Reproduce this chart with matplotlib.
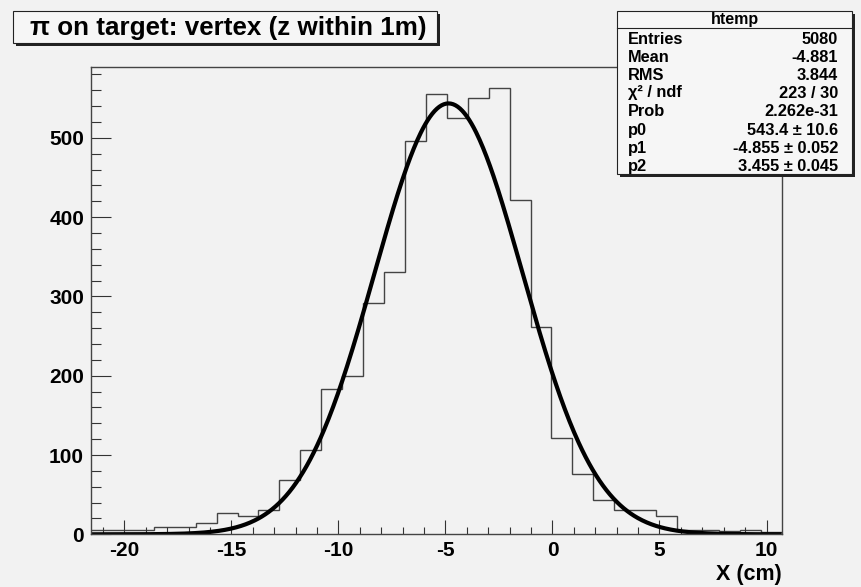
import numpy as np
import matplotlib
matplotlib.use("Agg")
import matplotlib.pyplot as plt
from matplotlib.patches import Rectangle
from matplotlib.ticker import MultipleLocator

plt.rcParams['font.family'] = ['Liberation Sans', 'DejaVu Sans']
plt.rcParams['axes.unicode_minus'] = False

# ---- data ----
title = "π on target: vertex (z within 1m)"
x_label = "X (cm)"
x_min, x_max = -21.56, 10.71
counts = [5, 5, 5, 9, 9, 14, 27, 23, 31, 69, 106, 183, 200, 292, 331, 496,
          555, 525, 550, 563, 422, 261, 122, 76, 43, 31, 31, 23, 6, 5, 4, 6, 3]
fit_p0, fit_p1, fit_p2 = 543.4, -4.855, 3.455
stats_name = "htemp"
stats_labels = ["Entries", "Mean", "RMS", "χ² / ndf", "Prob", "p0", "p1", "p2"]
stats_values = ["5080", "-4.881", "3.844", "223 / 30", "2.262e-31",
                "543.4 ± 10.6", "-4.855 ± 0.052", "3.455 ± 0.045"]
y_max = 589.7

BG = "#f2f2f2"
W, H = 861, 587
fig = plt.figure(figsize=(W / 100, H / 100), dpi=100, facecolor=BG)

ax_l, ax_r, ax_t, ax_b = 91, 781.7, 66.7, 534.3
ax = fig.add_axes([ax_l / W, (H - ax_b) / H, (ax_r - ax_l) / W, (ax_b - ax_t) / H])
ax.set_facecolor(BG)

edges = np.linspace(x_min, x_max, len(counts) + 1)
ax.stairs(counts, edges, color="#444444", lw=1.0, baseline=None)

xf = np.linspace(x_min, x_max, 600)
yf = fit_p0 * np.exp(-0.5 * ((xf - fit_p1) / fit_p2) ** 2)
ax.plot(xf, yf, color="black", lw=3.0, solid_capstyle="butt")

ax.set_xlim(x_min, x_max)
ax.set_ylim(0, y_max)
ax.xaxis.set_major_locator(MultipleLocator(5))
ax.xaxis.set_minor_locator(MultipleLocator(1))
ax.yaxis.set_major_locator(MultipleLocator(100))
ax.yaxis.set_minor_locator(MultipleLocator(20))
ax.tick_params(axis="x", which="major", direction="in", length=10, width=0.8,
               color="#333333", pad=5, labelsize=15)
ax.tick_params(axis="x", which="minor", direction="in", length=5, width=0.8, color="#333333")
ax.tick_params(axis="y", which="major", direction="in", length=14.4, width=0.8,
               color="#333333", pad=5, labelsize=15)
ax.tick_params(axis="y", which="minor", direction="in", length=7.2, width=0.8, color="#333333")
for lab in ax.get_xticklabels() + ax.get_yticklabels():
    lab.set_fontweight("bold")
for s in ax.spines.values():
    s.set_color("#444444")
    s.set_linewidth(1.0)
ax.set_xlabel(x_label, fontsize=15.5, fontweight="bold", loc="right", labelpad=3)

# overlay in pixel coordinates for boxes
ov = fig.add_axes([0, 0, 1, 1], facecolor="none")
ov.set_xlim(0, W)
ov.set_ylim(H, 0)
ov.axis("off")

def shadow_box(x0, y0, x1, y1, fill="#f6f6f6", sh=3):
    ov.add_patch(Rectangle((x0 + sh, y0 + sh), x1 - x0, y1 - y0, facecolor="#222222",
                           edgecolor="none", zorder=1))
    ov.add_patch(Rectangle((x0, y0), x1 - x0, y1 - y0, facecolor=fill,
                           edgecolor="#222222", lw=0.8, zorder=2))

# title box
shadow_box(12.7, 11, 437, 42.7)
ov.text(228, 27.5, title, ha="center", va="center", fontsize=18.7,
        fontweight="bold", zorder=3)

# stats box
sx0, sy0, sx1, sy1 = 617, 11, 852, 174
shadow_box(sx0, sy0, sx1, sy1)
ov.plot([sx0, sx1], [28, 28], color="#222222", lw=0.8, zorder=3)
ov.text((sx0 + sx1) / 2, 19.5, stats_name, ha="center", va="center", fontsize=11.5,
        fontweight="bold", zorder=3)
row_y = [39, 57, 75, 93, 112, 130.5, 148.5, 166.7]
for yy, lab, val in zip(row_y, stats_labels, stats_values):
    ov.text(628, yy, lab, ha="left", va="center", fontsize=11.8, fontweight="bold", zorder=3)
    ov.text(838, yy, val, ha="right", va="center", fontsize=11.8, fontweight="bold", zorder=3)

fig.savefig("out.png", dpi=100, facecolor=BG)
